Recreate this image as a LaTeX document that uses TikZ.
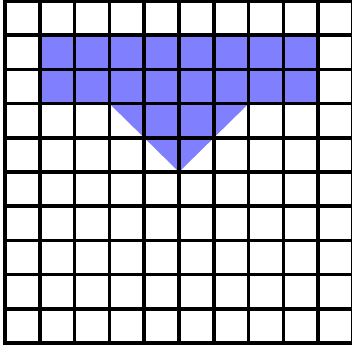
\documentclass[tikz,border=0pt]{standalone}
\usepackage{tikz}

\begin{document}
\begin{tikzpicture}[xscale=0.870,yscale=0.855]
\useasboundingbox (-0.144,-0.322) rectangle (9.960,10.029);
\fill[blue!50] (1.000,9.000) -- (9.000,9.000) -- (9.000,7.000) -- (7.000,7.000) -- (5.000,5.000) -- (3.000,7.000) -- (1.000,7.000) -- cycle;
\draw[black,line width=2.5pt] (0.000,0.000) grid (10.000,10.000);
\draw[black,line width=2.5pt] (0.000,0.000) rectangle (10.000,10.000);
\end{tikzpicture}
\end{document}
